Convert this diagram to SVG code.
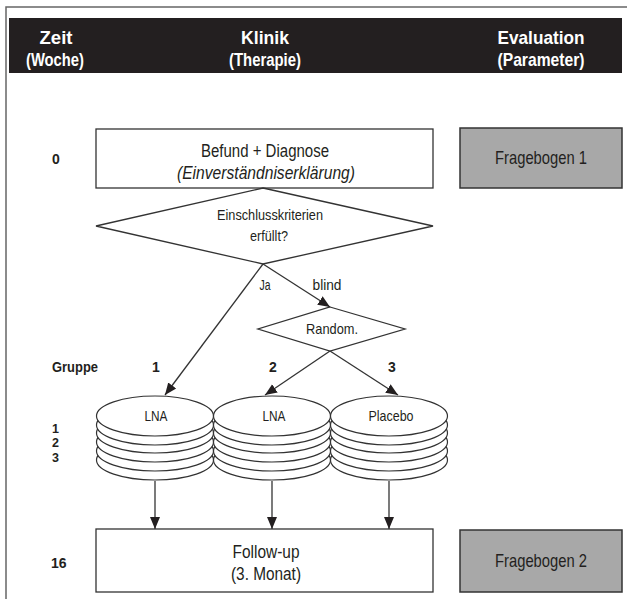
<svg xmlns="http://www.w3.org/2000/svg" width="627" height="599" viewBox="0 0 627 599">
<style>
.t{font-family:"Liberation Sans",Arial,sans-serif;fill:#231f20;text-anchor:middle}
.h{font-family:"Liberation Sans",Arial,sans-serif;font-weight:bold;fill:#fff;text-anchor:middle;font-size:19px}
.b{font-family:"Liberation Sans",Arial,sans-serif;font-weight:bold;fill:#231f20;font-size:14px}
.n{font-size:12.5px}
.box{fill:#fff;stroke:#333;stroke-width:1.3}
.gbox{fill:#a8a8a8;stroke:#333;stroke-width:1.5}
.ln{stroke:#333;stroke-width:1.3;fill:none}
.el{fill:#fff;stroke:#333;stroke-width:1.2}
</style>
<defs>
<marker id="ah" markerUnits="userSpaceOnUse" markerWidth="13" markerHeight="13" viewBox="0 0 13 13" refX="12" refY="6.5" orient="auto">
<path d="M0,1.5 L12,6.5 L0,11.5 Z" fill="#231f20"/>
</marker>
</defs>
<rect width="627" height="599" fill="#fff"/>
<path d="M6,599 V7 H627" fill="none" stroke="#666" stroke-width="1.5"/>
<g id="header">
<rect x="9" y="18" width="613" height="55" fill="#231f20"/>
<text class="h" x="56" y="44" textLength="33" lengthAdjust="spacingAndGlyphs">Zeit</text>
<text class="h" x="55" y="66" textLength="58" lengthAdjust="spacingAndGlyphs">(Woche)</text>
<text class="h" x="265" y="44" textLength="48" lengthAdjust="spacingAndGlyphs">Klinik</text>
<text class="h" x="265" y="66" textLength="72" lengthAdjust="spacingAndGlyphs">(Therapie)</text>
<text class="h" x="541" y="44" textLength="87" lengthAdjust="spacingAndGlyphs">Evaluation</text>
<text class="h" x="541" y="66" textLength="87" lengthAdjust="spacingAndGlyphs">(Parameter)</text>
</g>
<g id="labels">
<text class="b" x="52" y="164">0</text>
<text class="b" x="52" y="372" textLength="46" lengthAdjust="spacingAndGlyphs">Gruppe</text>
<text class="b" x="156" y="372" text-anchor="middle">1</text>
<text class="b" x="273" y="372" text-anchor="middle">2</text>
<text class="b" x="392" y="372" text-anchor="middle">3</text>
<text class="b n" x="52" y="432.5">1</text>
<text class="b n" x="52" y="447">2</text>
<text class="b n" x="52" y="461.5">3</text>
<text class="b" x="51" y="568">16</text>
</g>
<g id="befund">
<rect class="box" x="96" y="129" width="337" height="59"/>
<text class="t" x="265" y="157" font-size="17.5" textLength="128" lengthAdjust="spacingAndGlyphs">Befund + Diagnose</text>
<text class="t" x="266" y="179" font-size="17.5" font-style="italic" textLength="178" lengthAdjust="spacingAndGlyphs">(Einverständniserklärung)</text>
</g>
<g id="fragebogen1">
<rect class="gbox" x="460" y="128" width="162" height="60"/>
<text class="t" x="541" y="164" font-size="18.5" textLength="92" lengthAdjust="spacingAndGlyphs">Fragebogen 1</text>
</g>
<g id="einschluss">
<polygon class="box" points="263,188 433,226 263,264 96,226"/>
<text class="t" x="270" y="220" font-size="15" textLength="106" lengthAdjust="spacingAndGlyphs">Einschlusskriterien</text>
<text class="t" x="269" y="241" font-size="15" textLength="38" lengthAdjust="spacingAndGlyphs">erfüllt?</text>
</g>
<g id="random">
<polygon class="box" points="330,307 405,329 330,351 258,329"/>
<text class="t" x="332" y="334" font-size="15" textLength="52" lengthAdjust="spacingAndGlyphs">Random.</text>
</g>
<g id="connectors">
<line class="ln" x1="263" y1="264" x2="165" y2="395" marker-end="url(#ah)"/>
<line class="ln" x1="263" y1="264" x2="330" y2="307" marker-end="url(#ah)"/>
<line class="ln" x1="330" y1="351" x2="265" y2="395" marker-end="url(#ah)"/>
<line class="ln" x1="330" y1="351" x2="398" y2="395" marker-end="url(#ah)"/>
<line class="ln" x1="155" y1="481" x2="155" y2="529" marker-end="url(#ah)"/>
<line class="ln" x1="272" y1="481" x2="272" y2="529" marker-end="url(#ah)"/>
<line class="ln" x1="389" y1="481" x2="389" y2="529" marker-end="url(#ah)"/>
<text class="t" x="265" y="290" font-size="14" textLength="11" lengthAdjust="spacingAndGlyphs">Ja</text>
<text class="t" x="327" y="290" font-size="14" textLength="29" lengthAdjust="spacingAndGlyphs">blind</text>
</g>
<g id="group1">
<ellipse class="el" cx="155" cy="460" rx="58.5" ry="20"/>
<ellipse class="el" cx="155" cy="451" rx="58.5" ry="20"/>
<ellipse class="el" cx="155" cy="442" rx="58.5" ry="20"/>
<ellipse class="el" cx="155" cy="433" rx="58.5" ry="20"/>
<ellipse class="el" cx="155" cy="425" rx="58.5" ry="20"/>
<ellipse class="el" cx="155" cy="416" rx="58.5" ry="20"/>
<text class="t" x="156" y="421" font-size="15" textLength="23" lengthAdjust="spacingAndGlyphs">LNA</text>
</g>
<g id="group2">
<ellipse class="el" cx="272" cy="460" rx="58.5" ry="20"/>
<ellipse class="el" cx="272" cy="451" rx="58.5" ry="20"/>
<ellipse class="el" cx="272" cy="442" rx="58.5" ry="20"/>
<ellipse class="el" cx="272" cy="433" rx="58.5" ry="20"/>
<ellipse class="el" cx="272" cy="425" rx="58.5" ry="20"/>
<ellipse class="el" cx="272" cy="416" rx="58.5" ry="20"/>
<text class="t" x="274" y="421" font-size="15" textLength="23" lengthAdjust="spacingAndGlyphs">LNA</text>
</g>
<g id="group3">
<ellipse class="el" cx="389" cy="460" rx="58.5" ry="20"/>
<ellipse class="el" cx="389" cy="451" rx="58.5" ry="20"/>
<ellipse class="el" cx="389" cy="442" rx="58.5" ry="20"/>
<ellipse class="el" cx="389" cy="433" rx="58.5" ry="20"/>
<ellipse class="el" cx="389" cy="425" rx="58.5" ry="20"/>
<ellipse class="el" cx="389" cy="416" rx="58.5" ry="20"/>
<text class="t" x="391" y="421" font-size="15" textLength="45" lengthAdjust="spacingAndGlyphs">Placebo</text>
</g>
<g id="followup">
<rect class="box" x="96" y="529" width="337" height="63"/>
<text class="t" x="266" y="558" font-size="17.5" textLength="67" lengthAdjust="spacingAndGlyphs">Follow-up</text>
<text class="t" x="266" y="580" font-size="17.5" textLength="70" lengthAdjust="spacingAndGlyphs">(3. Monat)</text>
</g>
<g id="fragebogen2">
<rect class="gbox" x="460" y="530" width="162" height="62"/>
<text class="t" x="541" y="567" font-size="18.5" textLength="92" lengthAdjust="spacingAndGlyphs">Fragebogen 2</text>
</g>
</svg>
